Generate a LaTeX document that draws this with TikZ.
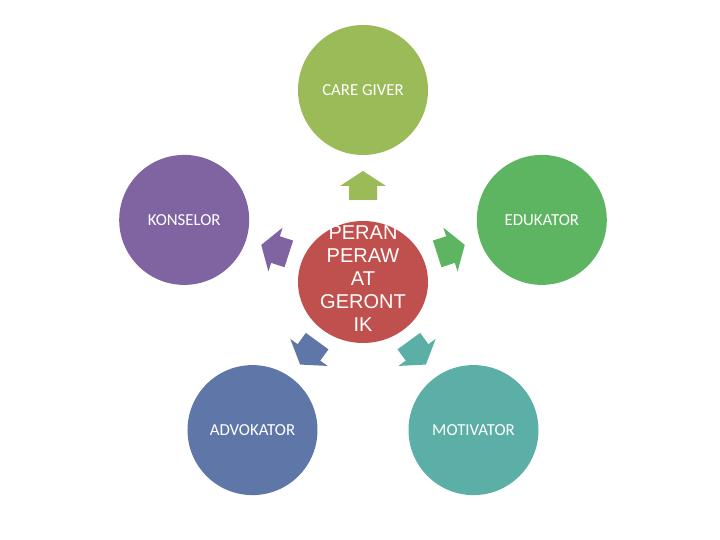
\documentclass[tikz,border=0pt]{standalone}
\usepackage{fontspec}
\setmainfont{Carlito}
\newfontfamily\arialfont{Liberation Sans}
\definecolor{cgreen}{HTML}{9BBB59}
\definecolor{cpurple}{HTML}{8064A2}
\definecolor{cgreen2}{HTML}{5DB562}
\definecolor{cblue}{HTML}{5F77A8}
\definecolor{cteal}{HTML}{5BAFA6}
\definecolor{cred}{HTML}{C0504D}
\begin{document}
\begin{tikzpicture}[x=1pt,y=1pt,
  outer/.style={circle,minimum size=130pt,inner sep=0pt,text=white,font=\fontsize{16.8}{19}\selectfont},
  blockarrow/.style={fill=#1,draw=none}]
\useasboundingbox (-363,-262) rectangle (357,278);
% outer circles
\node[outer,fill=cgreen] (care) at (90:188) {CARE GIVER};
\node[outer,fill=cpurple] (kons) at (162:188) {KONSELOR};
\node[outer,fill=cgreen2] (edu) at (18:188) {EDUKATOR};
\node[outer,fill=cblue] (adv) at (234:188) {ADVOKATOR};
\node[outer,fill=cteal] (mot) at (306:188) {MOTIVATOR};
% centre
\fill[cred] (0,-4) ellipse [x radius=65, y radius=61];
\node[text=white,align=center,font=\arialfont\fontsize{20}{23}\selectfont] (centre) at (0,-1) {PERAN\\PERAW\\AT\\GERONT\\IK};
% block arrows
\foreach \ang/\col in {90/cgreen,162/cpurple,18/cgreen2,234/cblue,306/cteal}{
  \begin{scope}[rotate=\ang-90]
    \fill[\col] (-14,78) -- (-14,92) -- (-23,92) -- (0,107) -- (23,92) -- (14,92) -- (14,78) -- cycle;
  \end{scope}
}
\end{tikzpicture}
\end{document}
